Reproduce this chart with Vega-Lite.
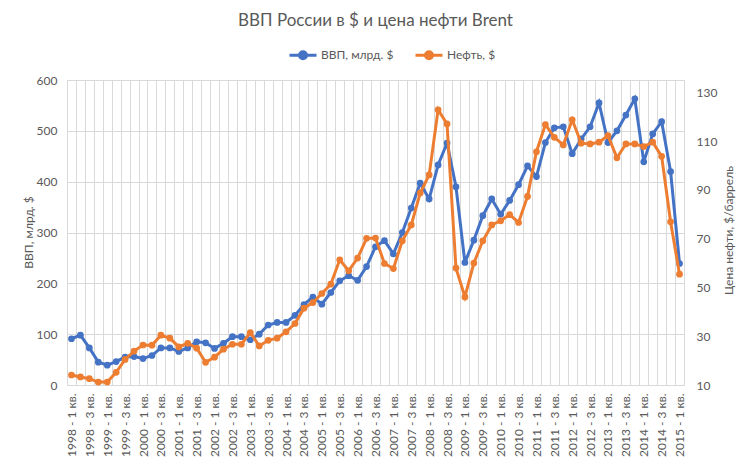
{
  "$schema": "https://vega.github.io/schema/vega-lite/v6.json",
  "description": "ВВП России в $ и цена нефти Brent, поквартально 1998-2015",
  "width": 617,
  "height": 305,
  "autosize": "none",
  "padding": {"left": 67, "top": 80, "right": 68, "bottom": 73},
  "background": "white",
  "title": {"text": "ВВП России в $ и цена нефти Brent", "font": "Lato", "fontSize": 17, "fontWeight": "normal", "color": "#595959", "anchor": "middle", "offset": 10},
  "data": {
    "values": [
      {"q": "1998 - 1 кв.", "gdp": 91, "oil": 14.1},
      {"q": "1998 - 2 кв.", "gdp": 98, "oil": 13.3},
      {"q": "1998 - 3 кв.", "gdp": 73, "oil": 12.6},
      {"q": "1998 - 4 кв.", "gdp": 45, "oil": 11.2},
      {"q": "1999 - 1 кв.", "gdp": 39, "oil": 11.2},
      {"q": "1999 - 2 кв.", "gdp": 46, "oil": 15.2},
      {"q": "1999 - 3 кв.", "gdp": 55, "oil": 20.5},
      {"q": "1999 - 4 кв.", "gdp": 56, "oil": 23.9},
      {"q": "2000 - 1 кв.", "gdp": 52, "oil": 26.4},
      {"q": "2000 - 2 кв.", "gdp": 58, "oil": 26.3},
      {"q": "2000 - 3 кв.", "gdp": 73, "oil": 30.4},
      {"q": "2000 - 4 кв.", "gdp": 73, "oil": 29.2},
      {"q": "2001 - 1 кв.", "gdp": 66, "oil": 25.6},
      {"q": "2001 - 2 кв.", "gdp": 73, "oil": 27.1},
      {"q": "2001 - 3 кв.", "gdp": 85, "oil": 25.1},
      {"q": "2001 - 4 кв.", "gdp": 83, "oil": 19.3},
      {"q": "2002 - 1 кв.", "gdp": 72, "oil": 21.4},
      {"q": "2002 - 2 кв.", "gdp": 82, "oil": 24.7},
      {"q": "2002 - 3 кв.", "gdp": 95, "oil": 26.7},
      {"q": "2002 - 4 кв.", "gdp": 95, "oil": 26.7},
      {"q": "2003 - 1 кв.", "gdp": 89, "oil": 31.5},
      {"q": "2003 - 2 кв.", "gdp": 100, "oil": 26.0},
      {"q": "2003 - 3 кв.", "gdp": 118, "oil": 28.3},
      {"q": "2003 - 4 кв.", "gdp": 123, "oil": 29.2},
      {"q": "2004 - 1 кв.", "gdp": 123, "oil": 31.8},
      {"q": "2004 - 2 кв.", "gdp": 137, "oil": 35.2},
      {"q": "2004 - 3 кв.", "gdp": 158, "oil": 41.5},
      {"q": "2004 - 4 кв.", "gdp": 173, "oil": 43.8},
      {"q": "2005 - 1 кв.", "gdp": 159, "oil": 47.5},
      {"q": "2005 - 2 кв.", "gdp": 182, "oil": 51.3},
      {"q": "2005 - 3 кв.", "gdp": 205, "oil": 61.3},
      {"q": "2005 - 4 кв.", "gdp": 215, "oil": 56.8},
      {"q": "2006 - 1 кв.", "gdp": 206, "oil": 62.0},
      {"q": "2006 - 2 кв.", "gdp": 233, "oil": 70.1},
      {"q": "2006 - 3 кв.", "gdp": 272, "oil": 70.2},
      {"q": "2006 - 4 кв.", "gdp": 284, "oil": 59.8},
      {"q": "2007 - 1 кв.", "gdp": 258, "oil": 57.7},
      {"q": "2007 - 2 кв.", "gdp": 300, "oil": 69.1},
      {"q": "2007 - 3 кв.", "gdp": 348, "oil": 75.6},
      {"q": "2007 - 4 кв.", "gdp": 397, "oil": 88.7},
      {"q": "2008 - 1 кв.", "gdp": 366, "oil": 96.1},
      {"q": "2008 - 2 кв.", "gdp": 433, "oil": 122.8},
      {"q": "2008 - 3 кв.", "gdp": 476, "oil": 117.0},
      {"q": "2008 - 4 кв.", "gdp": 390, "oil": 57.9},
      {"q": "2009 - 1 кв.", "gdp": 241, "oil": 46.1},
      {"q": "2009 - 2 кв.", "gdp": 285, "oil": 60.0},
      {"q": "2009 - 3 кв.", "gdp": 333, "oil": 69.1},
      {"q": "2009 - 4 кв.", "gdp": 366, "oil": 75.6},
      {"q": "2010 - 1 кв.", "gdp": 336, "oil": 77.3},
      {"q": "2010 - 2 кв.", "gdp": 363, "oil": 79.8},
      {"q": "2010 - 3 кв.", "gdp": 394, "oil": 76.6},
      {"q": "2010 - 4 кв.", "gdp": 431, "oil": 87.3},
      {"q": "2011 - 1 кв.", "gdp": 410, "oil": 105.6},
      {"q": "2011 - 2 кв.", "gdp": 477, "oil": 116.7},
      {"q": "2011 - 3 кв.", "gdp": 506, "oil": 111.5},
      {"q": "2011 - 4 кв.", "gdp": 508, "oil": 108.4},
      {"q": "2012 - 1 кв.", "gdp": 455, "oil": 118.7},
      {"q": "2012 - 2 кв.", "gdp": 484, "oil": 109.1},
      {"q": "2012 - 3 кв.", "gdp": 508, "oil": 108.8},
      {"q": "2012 - 4 кв.", "gdp": 555, "oil": 109.5},
      {"q": "2013 - 1 кв.", "gdp": 477, "oil": 112.2},
      {"q": "2013 - 2 кв.", "gdp": 500, "oil": 103.1},
      {"q": "2013 - 3 кв.", "gdp": 531, "oil": 108.8},
      {"q": "2013 - 4 кв.", "gdp": 563, "oil": 108.8},
      {"q": "2014 - 1 кв.", "gdp": 439, "oil": 107.7},
      {"q": "2014 - 2 кв.", "gdp": 494, "oil": 109.5},
      {"q": "2014 - 3 кв.", "gdp": 518, "oil": 103.7},
      {"q": "2014 - 4 кв.", "gdp": 420, "oil": 76.9},
      {"q": "2015 - 1 кв.", "gdp": 239, "oil": 55.4}
    ]
  },
  "encoding": {
    "x": {
      "field": "q",
      "type": "ordinal",
      "sort": null,
      "bandPosition": 0.5,
      "scale": {"type": "band", "paddingInner": 0, "paddingOuter": 0},
      "axis": {
        "title": null,
        "tickBand": "extent",
        "grid": true,
        "gridColor": "#d9d9d9",
        "ticks": false,
        "domain": false,
        "labelAngle": -90,
        "labelPadding": 8,
        "labelOverlap": false,
        "labelExpr": "indexof(datum.label, '1 кв') >= 0 || indexof(datum.label, '3 кв') >= 0 ? datum.label : ''",
        "labelFont": "Lato",
        "labelFontSize": 12,
        "labelColor": "#595959"
      }
    }
  },
  "layer": [
    {
      "mark": {"type": "line", "strokeWidth": 3, "point": {"filled": true, "size": 45}},
      "encoding": {
        "y": {
          "field": "gdp",
          "type": "quantitative",
          "scale": {"domain": [0, 600]},
          "axis": {
            "orient": "left",
            "values": [0, 100, 200, 300, 400, 500, 600],
            "title": "ВВП, млрд. $",
            "grid": true,
            "gridColor": "#d9d9d9",
            "domain": false,
            "ticks": false,
            "labelPadding": 10,
            "labelFont": "Lato",
            "labelFontSize": 12,
            "labelColor": "#595959",
            "titleFont": "Lato",
            "titleFontSize": 12,
            "titleFontWeight": "normal",
            "titleColor": "#595959",
            "titleAngle": -90,
            "titleBaseline": "middle",
            "titleX": -39,
            "titleY": 152
          }
        },
        "color": {
          "datum": "ВВП, млрд. $",
          "type": "nominal",
          "scale": {"domain": ["ВВП, млрд. $", "Нефть, $"], "range": ["#4472C4", "#ED7D31"]},
          "legend": {
            "title": null,
            "orient": "none",
            "direction": "horizontal",
            "legendX": 221,
            "legendY": -40,
            "symbolType": "M-1,0L1,0M0.26,0A0.26,0.26,0,1,1,-0.26,0A0.26,0.26,0,1,1,0.26,0Z",
            "symbolSize": 729,
            "symbolStrokeWidth": 3,
            "columnPadding": 15,
            "labelOffset": 3,
            "labelFont": "Lato",
            "labelFontSize": 12,
            "labelColor": "#595959",
            "encode": {
              "symbols": {
                "update": {
                  "fill": {"scale": "color", "field": "value"},
                  "stroke": {"scale": "color", "field": "value"},
                  "opacity": {"value": 1}
                }
              }
            }
          }
        }
      }
    },
    {
      "mark": {"type": "line", "strokeWidth": 3, "point": {"filled": true, "size": 45}},
      "encoding": {
        "y": {
          "field": "oil",
          "type": "quantitative",
          "scale": {"domain": [10, 135]},
          "axis": {
            "orient": "right",
            "values": [10, 30, 50, 70, 90, 110, 130],
            "title": "Цена нефти, $/баррель",
            "grid": false,
            "domain": false,
            "ticks": false,
            "labelPadding": 12,
            "labelFont": "Lato",
            "labelFontSize": 12,
            "labelColor": "#595959",
            "titleFont": "Lato",
            "titleFontSize": 12,
            "titleFontWeight": "normal",
            "titleColor": "#595959",
            "titleAngle": -90,
            "titleBaseline": "middle",
            "titleX": 44,
            "titleY": 150
          }
        },
        "color": {"datum": "Нефть, $", "type": "nominal"}
      }
    }
  ],
  "resolve": {"scale": {"y": "independent"}},
  "config": {
    "view": {"stroke": "#d9d9d9"},
    "font": "Lato"
  }
}
